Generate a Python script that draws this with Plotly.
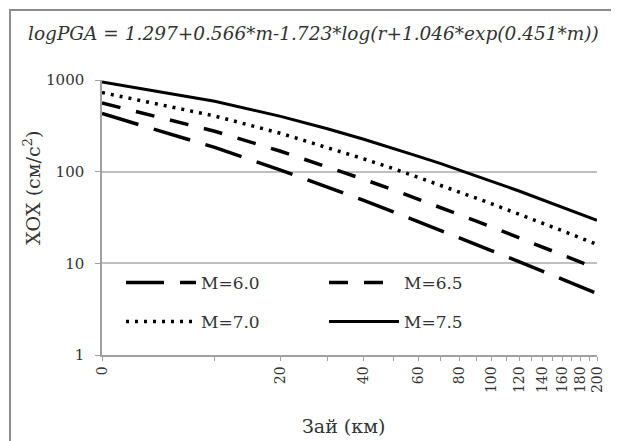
import plotly.graph_objects as go

# ---- data ----
r_km = [0, 10, 20, 30, 40, 50, 60, 70, 80, 90, 100, 110, 120, 130, 140, 150, 160, 170, 180, 190, 200]
pga_m60 = [431, 184, 104, 68.2, 48.5, 36.5, 28.6, 23.1, 19.1, 16.1, 13.7, 11.9, 10.4, 9.24, 8.24, 7.40, 6.69, 6.08, 5.56, 5.10, 4.70]
pga_m65 = [561, 276, 167, 113, 82.6, 63.2, 50.2, 40.9, 34.1, 28.9, 24.9, 21.7, 19.1, 16.9, 15.1, 13.6, 12.4, 11.3, 10.3, 9.47, 8.74]
pga_m70 = [730, 405, 262, 185, 138, 108, 86.8, 71.6, 60.2, 51.4, 44.5, 39.0, 34.4, 30.7, 27.5, 24.9, 22.6, 20.6, 18.9, 17.4, 16.1]
pga_m75 = [949, 585, 401, 294, 226, 180, 147, 123, 104.5, 90.1, 78.6, 69.2, 61.5, 55.0, 49.6, 45.0, 41.0, 37.5, 34.5, 31.9, 29.5]
series_names = ["M=6.0", "M=6.5", "M=7.0", "M=7.5"]
x_major_ticks = [0, 20, 40, 60, 80, 100, 120, 140, 160, 180, 200]
x_minor_ticks = [10, 30, 50, 70, 90, 110, 130, 150, 170, 190]
y_tick_values = [1, 10, 100, 1000]
title_text = "logPGA = 1.297+0.566*m-1.723*log(r+1.046*exp(0.451*m))"
x_title = "Зай (км)"
y_title = "ХОХ (см/с<sup>2</sup>)"

# ---- layout geometry (pixels in the 619x441 window; page body has an 8px margin) ----
PAGE = 8
WIN_W, WIN_H = 619, 441
W, H = WIN_W - PAGE, WIN_H - PAGE
L, R, T, B = 102 - PAGE, 22, 80 - PAGE, 86
PW, PH = W - L - R, H - T - B

def px_x(px):
    return (px - PAGE - L) / PW

def px_y(py):
    return 1 - (py - PAGE - T) / PH

FONT = "DejaVu Serif"
OFF = 10  # x axis plots r + 10 on a log scale

x_plot = [r + OFF for r in r_km]

styles = [
    dict(dash="38px,16px", width=3.5),
    dict(dash="19px,16px", width=3.5),
    dict(dash="3px,6px", width=3.5),
    dict(dash="solid", width=3),
]
series = [pga_m60, pga_m65, pga_m70, pga_m75]
legend_ids = ["legend", "legend2", "legend3", "legend4"]

fig = go.Figure()
for name, ys, st, lg in zip(series_names, series, styles, legend_ids):
    fig.add_trace(go.Scatter(
        x=x_plot, y=ys, mode="lines", name=name,
        line=dict(color="black", width=st["width"], dash=st["dash"]),
        legend=lg,
    ))

leg_common = dict(bgcolor="rgba(0,0,0,0)", font=dict(family=FONT, size=17, color="#333"),
                  itemwidth=70, xanchor="left", yanchor="middle")
leg_pos = {
    "legend": (121, 283),
    "legend2": (324, 283),
    "legend3": (121, 322),
    "legend4": (324, 322),
}
legends = {}
for k, (lx, ly) in leg_pos.items():
    legends[k] = dict(leg_common, x=px_x(lx), y=px_y(ly))

fig.update_layout(
    width=W, height=H,
    margin=dict(l=L, r=R, t=T, b=B),
    paper_bgcolor="white", plot_bgcolor="white",
    showlegend=True,
    **legends,
    xaxis=dict(
        type="log", range=[1, 2.3222],
        tickmode="array", tickvals=[v + OFF for v in x_major_ticks], ticktext=[str(v) for v in x_major_ticks],
        tickangle=-90, ticks="outside", ticklen=4, tickcolor="#a0a0a0",
        minor=dict(tickmode="array", tickvals=[v + OFF for v in x_minor_ticks], ticks="outside",
                   ticklen=4, tickcolor="#a0a0a0", showgrid=False),
        showgrid=False, showline=True, linecolor="#a0a0a0", linewidth=1.5,
        tickfont=dict(family=FONT, size=14, color="#333"), zeroline=False,
    ),
    yaxis=dict(
        type="log", range=[0, 3],
        tickmode="array", tickvals=y_tick_values, ticktext=[str(v) for v in y_tick_values],
        ticks="outside", ticklen=5, tickcolor="#a0a0a0",
        showgrid=True, gridcolor="#bfbfbf", gridwidth=1.5,
        showline=True, linecolor="#a0a0a0", linewidth=1.5,
        tickfont=dict(family=FONT, size=15, color="#333"), ticklabelstandoff=8, zeroline=False,
    ),
    annotations=[
        dict(text=title_text, xref="paper", yref="paper", x=px_x(26), y=px_y(33),
             xanchor="left", yanchor="middle", showarrow=False,
             font=dict(family=FONT, size=18.5, color="#333", style="italic")),
        dict(text=x_title, xref="paper", yref="paper", x=px_x(343), y=px_y(426),
             xanchor="center", yanchor="middle", showarrow=False,
             font=dict(family=FONT, size=19, color="#333")),
        dict(text=y_title, xref="paper", yref="paper", x=px_x(32), y=px_y(188),
             xanchor="center", yanchor="middle", showarrow=False, textangle=-90,
             font=dict(family=FONT, size=19, color="#333")),
    ],
    shapes=[
        dict(type="rect", xref="paper", yref="paper",
             x0=px_x(10), x1=px_x(617), y0=px_y(470), y1=px_y(10),
             line=dict(color="#8c8c8c", width=2), fillcolor="rgba(0,0,0,0)", layer="below"),
    ],
)

fig.write_html("out.html")
